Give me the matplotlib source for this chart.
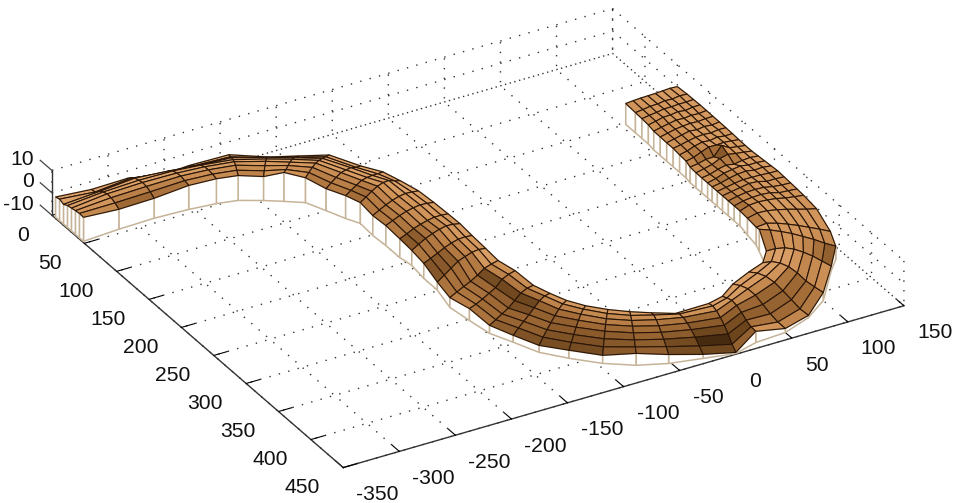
import numpy as np
import matplotlib
matplotlib.use("Agg")
import matplotlib.pyplot as plt
from matplotlib.colors import LinearSegmentedColormap
from mpl_toolkits.mplot3d.art3d import Poly3DCollection
from mpl_toolkits.mplot3d import proj3d

plt.rcParams['font.family'] = ['Liberation Sans', 'DejaVu Sans']
plt.rcParams['axes.unicode_minus'] = False

# Plan position of the near bank (A) and far bank (B), one entry per cross-section
xa = [-349,-316,-284,-254,-231,-214,-197,-184,-170.6,-163,-156,-150,-151,-150,-150,-148,-150,-150,-155,-152,
      -148.5,-139.5,-130,-114.6,-96,-75,-52,-25,0.7,22.5,50,77,100,128.5,140,145,150,
      150,150,150,150,150,150,150,150,150,150,150,150,150,150,150,150,150,150,150,150]
ya = [47,44.5,43.4,45,47.9,52,62,71,81,99.7,117.7,130,151,169.4,191,206,228,249,277,302,
      327,348,371.5,391,410.8,426.3,436.4,442.9,449,442,440,429,412,375,362,345,315,
      295,285,275,265,255,245,235,225,215,205,195,185,175,165,155,145,135,125,115,100]
xb = [-349,-316,-284,-254,-231,-199,-172.5,-154,-135.3,-123,-115,-108,-108,-107,-107,-105,-107,-107,-112,-109,
      -106,-98.7,-93,-83,-71,-58,-43,-25,2,18,35,55,75,88,95,98,100,
      102,102,102,102,102,102,102,102,102,102,103,103,103,103,103,103,104,104,104,104]
yb = [4,2,2,2,5,12,27,41,56.5,84,104.4,119,147,169,191,206,228,249,277,298,
      321,334,350,362,375.6,387,394,400,405,398,385,375,362,345,322,312,295,
      280,271,262,253,245,237,230,221,212,203,195,185,175,165,155,145,135,125,115,100]

# Surface height on each cross-section, from bank A to bank B
z_rows = [
 [0.7,0.9,0.6,0.2,-0.2,-1.2,-0.4,-1.0],
 [-1.1,0.2,1.0,1.2,0.5,-0.8,-2.5,-2.9],
 [-1.1,0.3,1.2,1.5,1.0,0.5,-1.0,-2.6],
 [0.7,1.3,1.8,1.6,1.0,-0.5,-3.0,-5.6],
 [1.1,1.6,2.0,1.8,1.0,-0.8,-2.5,-3.8],
 [1.1,1.7,2.2,2.0,1.2,0.3,-1.0,-1.8],
 [0.7,1.5,2.0,2.2,1.5,0.5,-1.5,-2.9],
 [2.9,2.5,2.6,2.4,2.0,1.0,-0.5,-1.6],
 [1.1,1.8,2.5,2.8,2.4,1.7,0.8,0.0],
 [-0.2,1.0,2.0,2.8,2.6,2.2,1.0,0.2],
 [0.2,1.2,2.2,3.0,3.0,2.6,2.0,1.5],
 [-0.7,0.5,1.8,2.8,3.2,2.8,1.4,0.2],
 [-1.1,0.3,1.6,2.6,3.3,3.6,3.2,2.7],
 [-1.1,0.2,1.5,2.5,3.2,3.6,3.4,2.9],
 [-1.6,-0.3,1.2,2.2,3.0,3.6,3.6,3.3],
 [-3.3,-1.5,0.2,1.5,2.5,3.2,3.0,2.4],
 [-3.3,-2.0,-0.5,1.0,2.2,3.0,3.2,2.9],
 [-6.4,-4.2,-2.0,0.2,1.4,2.4,2.8,2.4],
 [-5.6,-4.0,-2.5,-1.0,0.8,3.0,4.0,4.7],
 [-4.7,-3.8,-2.5,-1.0,0.5,3.2,4.4,5.0],
 [-6.4,-5.0,-3.5,-2.0,0.2,2.5,3.6,3.8],
 [-6.9,-5.0,-3.4,-1.8,0.0,1.8,2.6,2.4],
 [-6.9,-4.8,-3.0,-1.4,0.2,1.6,2.4,2.4],
 [-6.4,-4.6,-2.8,-1.2,0.2,1.2,1.8,1.6],
 [-6.4,-4.4,-2.6,-1.0,0.2,1.0,1.6,1.6],
 [-4.7,-3.6,-2.2,-0.8,0.4,1.2,1.7,1.6],
 [-6.0,-4.2,-2.6,-1.2,0.0,1.0,1.4,0.7],
 [-8.2,-6.0,-3.6,-1.8,-0.4,0.6,0.6,-0.7],
 [-9.5,-7.5,-4.5,-2.2,-0.4,1.0,1.6,1.1],
 [-5.0,-4.5,-3.0,-1.0,0.6,1.4,1.0,0.2],
 [-8.2,-7.0,-5.0,-2.5,0.0,1.2,1.0,0.0],
 [-9.0,-7.6,-5.0,-2.5,-0.2,1.0,1.0,0.0],
 [-6.4,-5.2,-3.8,-1.5,0.0,0.4,-0.2,-2.0],
 [-8.0,-6.0,-4.0,-2.5,-1.4,-1.0,-1.6,-2.9],
 [-4.0,-3.2,-2.0,-1.2,-0.4,0.0,0.2,0.0],
 [-2.4,-1.6,-1.0,-0.4,0.0,0.2,0.0,-2.0],
 [-0.5,-0.4,-0.1,0.2,0.3,0.2,-0.5,-2.5],
 [0.5,0.3,0.2,0.4,0.2,-0.2,-1.2,-3.3],
 [0.8,0.5,0.1,0.6,0.3,-0.5,-1.6,-3.3],
 [1.0,0.6,0.4,0.6,0.2,-0.6,-1.8,-3.3],
 [1.2,0.9,0.3,0.8,0.5,-0.8,-2.0,-3.3],
 [1.4,1.0,0.8,0.4,0.0,-1.0,-2.2,-3.3],
 [1.1,1.2,0.6,0.9,0.2,-0.9,-2.3,-3.3],
 [0.8,0.9,0.6,1.0,0.2,-0.6,-2.2,-3.3],
 [0.5,0.7,0.2,-0.6,-0.2,-1.2,-2.6,-3.3],
 [0.2,0.6,0.9,1.4,0.4,-1.4,-2.4,-3.3],
 [0.2,0.6,1.0,3.0,-1.2,-1.4,-2.4,-3.0],
 [0.3,0.7,1.0,0.8,0.9,-0.4,-1.8,-2.5],
 [0.5,0.4,0.9,0.3,0.6,-0.2,-1.4,-2.2],
 [0.6,0.7,0.2,0.5,0.2,-0.4,-1.2,-1.8],
 [0.7,0.3,0.6,0.1,0.5,-0.3,-1.1,-1.8],
 [0.7,0.6,0.3,0.5,0.2,-0.2,-1.0,-1.7],
 [0.8,0.4,0.6,0.2,0.4,-0.2,-0.9,-1.6],
 [0.8,0.7,0.2,0.6,0.1,0.0,-0.8,-1.5],
 [0.7,0.5,0.5,0.3,0.3,-0.3,-0.7,-1.2],
 [0.6,0.8,0.3,0.5,0.0,-0.1,-0.6,-1.0],
 [0.2,0.4,0.2,0.0,-0.1,-0.2,-0.4,-0.7],
]

x_ticks = [-350,-300,-250,-200,-150,-100,-50,0,50,100,150]
y_ticks = [0,50,100,150,200,250,300,350,400,450]
z_ticks = [-10,0,10]
z_floor = -10

Z = np.array(z_rows, dtype=float)
xa, ya, xb, yb = map(np.array, (xa, ya, xb, yb))
frac = np.linspace(0, 1, Z.shape[1])
X = np.outer(xa, 1 - frac) + np.outer(xb, frac)
Y = np.outer(ya, 1 - frac) + np.outer(yb, frac)

fig = plt.figure(figsize=(9.56, 5.03), dpi=100)
ax = fig.add_axes([-13/956, -226/503, 1.0, 956/503], projection='3d',
                  computed_zorder=False, proj_type='ortho')
ax.view_init(elev=30, azim=-120)
ax.set_xlim(-350, 150, view_margin=0)
ax.set_ylim(450, 0, view_margin=0)
ax.set_zlim(-10, 10, view_margin=0)
ax.set_box_aspect((500, 450, 40), zoom=0.886)

# skirt: white faces hanging from both banks and both ends
def curtain(px, py, pz):
    return [[(px[i], py[i], pz[i]), (px[i+1], py[i+1], pz[i+1]),
             (px[i+1], py[i+1], z_floor), (px[i], py[i], z_floor)] for i in range(len(px)-1)]
polys = []
polys += curtain(X[:, -1], Y[:, -1], Z[:, -1])
polys += curtain(X[-1], Y[-1], Z[-1])
polys += curtain(X[0], Y[0], Z[0])
polys += curtain(X[:, 0], Y[:, 0], Z[:, 0])
skirt = Poly3DCollection(polys, facecolor='white', edgecolor='#c6b398', linewidth=1.1, zorder=2)
ax.add_collection3d(skirt)

# lit surface
dz = 1.5
p = np.stack([X, Y, Z * dz], axis=-1)
d1 = p[1:, 1:] - p[:-1, :-1]
d2 = p[1:, :-1] - p[:-1, 1:]
n = np.cross(d1, d2)
n /= np.linalg.norm(n, axis=-1, keepdims=True)
n *= np.sign(n[..., 2:3])
light = np.array([0.25, -0.45, 1.0]); light /= np.linalg.norm(light)
lit = (n * light).sum(-1) - light[2]
cmap = LinearSegmentedColormap.from_list('cu', [(0, '#1c1006'), (0.2, '#5e3a16'), (0.45, '#a8703a'),
                                                (0.6, '#cf9358'), (0.75, '#dfa56c'), (1, '#f2d6b8')])
fc = cmap(np.clip(0.66 + 1.4 * lit, 0, 1))
surf = ax.plot_surface(X, Y, Z, facecolors=fc, rstride=1, cstride=1, shade=False, linewidth=0.8, zorder=3)
surf.set_edgecolor('#2a1608')

ax.set_xticks(x_ticks)
ax.set_yticks(y_ticks)
ax.set_zticks(z_ticks)
ax.set_xticklabels([])
ax.set_yticklabels([])
ax.set_zticklabels([])
for axis, outward in ((ax.xaxis, 0.3), (ax.yaxis, 0.3), (ax.zaxis, 0.0)):
    axis.set_pane_color((1, 1, 1, 0))
    axis.pane.set_edgecolor((1, 1, 1, 0))
    axis.line.set_color('#333333')
    axis.line.set_linewidth(1.0)
    axis._axinfo['grid'].update(color='#333333', linestyle=(0, (1, 6)), linewidth=1.0)
    axis._axinfo['tick'].update(inward_factor=0.0, outward_factor=outward, color='#444444')

# z tick marks point away along the y axis, as in the source
for v in z_ticks:
    ax.plot([-350, -350], [0, -18], [v, v], color='#444444', lw=0.9, zorder=1, clip_on=False)

M = ax.get_proj()
def label(text, x, y, z, dx, dy, ha):
    px, py, _ = proj3d.proj_transform(x, y, z, M)
    ax.annotate(text, xy=(px, py), xycoords='data', xytext=(dx, dy), textcoords='offset pixels',
                ha=ha, va='center', fontsize=15.2, color='#111111', annotation_clip=False)

for v in x_ticks:
    label(str(v), v, 450, -10, 13, -27, 'left')
for v in y_ticks:
    label(str(v), -350, v, -10, -23, -20, 'right')
for v in z_ticks:
    label(str(v), -350, 0, v, -18, 11, 'right')

fig.savefig('out.png', dpi=100)
